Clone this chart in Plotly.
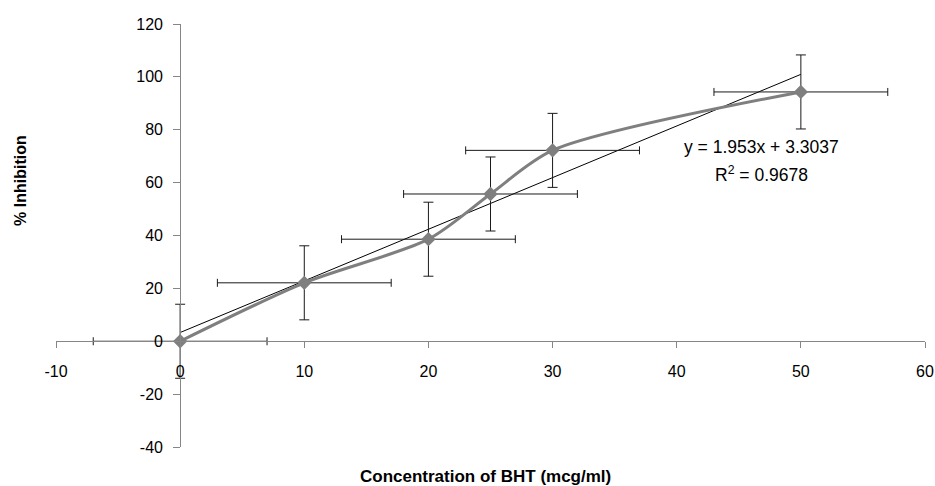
import plotly.graph_objects as go

# ---- data ----
conc = [0, 10, 20, 25, 30, 50]                 # Concentration of BHT (mcg/ml)
inhibition = [0, 22.1, 38.6, 55.7, 72.2, 94.3]  # % Inhibition
x_err = [7, 7, 7, 7, 7, 7]
y_err = [14, 14, 14, 14, 14, 14]
trend_slope = 1.953
trend_intercept = 3.3037
r_squared = 0.9678

x_ticks = [-10, 0, 10, 20, 30, 40, 50, 60]
y_ticks = [-40, -20, 0, 20, 40, 60, 80, 100, 120]

FONT = "Liberation Sans, Arial, Helvetica, sans-serif"
AXIS_GRAY = "#868686"
SERIES_GRAY = "#7f7f7f"

x_range = [-10, 60]
y_range = [-40, 120]

fig = go.Figure()

# linear trend line (from the fitted equation, over the data range)
tx = [min(conc), max(conc)]
ty = [trend_slope * v + trend_intercept for v in tx]
fig.add_trace(go.Scatter(
    x=tx, y=ty, mode="lines",
    line=dict(color="#000000", width=1),
    hoverinfo="skip", showlegend=False,
))

# smoothed data series with error bars
fig.add_trace(go.Scatter(
    x=conc, y=inhibition, mode="lines+markers",
    line=dict(color=SERIES_GRAY, width=3, shape="spline", smoothing=0.8),
    marker=dict(symbol="diamond", size=11, color=SERIES_GRAY),
    error_x=dict(type="data", array=x_err, visible=True,
                 color="#1a1a1a", thickness=1, width=4),
    error_y=dict(type="data", array=y_err, visible=True,
                 color="#1a1a1a", thickness=1, width=5),
    showlegend=False,
))

x_pos = (0 - y_range[0]) / (y_range[1] - y_range[0])
y_pos = (0 - x_range[0]) / (x_range[1] - x_range[0])

fig.update_layout(
    width=935, height=486,
    margin=dict(l=56, r=10, t=24, b=39, autoexpand=False),
    paper_bgcolor="white", plot_bgcolor="white",
    font=dict(family=FONT, size=16, color="#000000"),
    xaxis=dict(
        range=x_range, tickvals=x_ticks, ticktext=[str(v) for v in x_ticks],
        showgrid=False, zeroline=False, automargin=False,
        showline=True, linecolor=AXIS_GRAY, linewidth=1,
        ticks="outside", ticklen=6, tickcolor=AXIS_GRAY, tickwidth=1,
        anchor="free", position=x_pos,
        tickfont=dict(family=FONT, size=16, color="#000000"),
        ticklabelstandoff=10,
    ),
    yaxis=dict(
        range=y_range, tickvals=y_ticks, ticktext=[str(v) for v in y_ticks],
        showgrid=False, zeroline=False, automargin=False,
        showline=True, linecolor=AXIS_GRAY, linewidth=1,
        ticks="outside", ticklen=7, tickcolor=AXIS_GRAY, tickwidth=1,
        anchor="free", position=y_pos,
        tickfont=dict(family=FONT, size=16, color="#000000"),
        ticklabelstandoff=7,
    ),
    annotations=[
        dict(text="<b>% Inhibition</b>", textangle=-90,
             xref="paper", yref="paper", x=-0.041, y=0.63,
             showarrow=False, font=dict(family=FONT, size=16, color="#000000"),
             xanchor="center", yanchor="middle"),
        dict(text="<b>Concentration of BHT (mcg/ml)</b>",
             xref="paper", yref="paper", x=0.494, y=-0.07,
             showarrow=False, font=dict(family=FONT, size=17, color="#000000"),
             xanchor="center", yanchor="middle"),
        dict(text=f"y = {trend_slope}x + {trend_intercept}",
             xref="x", yref="y", x=46.8, y=73.3,
             showarrow=False, font=dict(family=FONT, size=17.5, color="#000000"),
             xanchor="center", yanchor="middle"),
        dict(text=f"R<sup>2</sup> = {r_squared}",
             xref="x", yref="y", x=46.8, y=63.4,
             showarrow=False, font=dict(family=FONT, size=17.5, color="#000000"),
             xanchor="center", yanchor="middle"),
    ],
)

fig.write_html("out.html", config={"displayModeBar": False},
               post_script="document.body.style.margin='0';")
